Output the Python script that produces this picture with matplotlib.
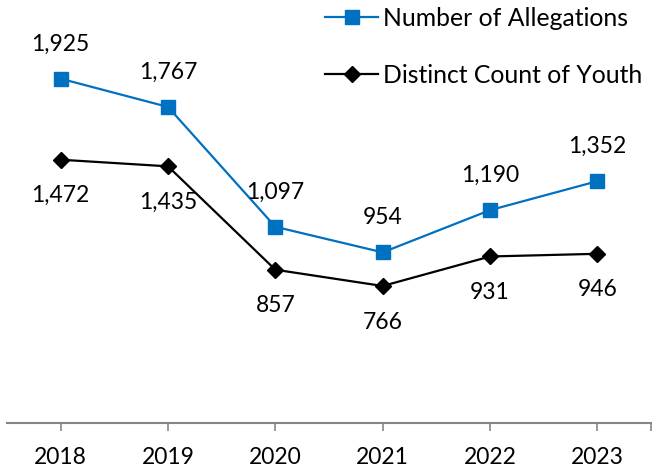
import matplotlib.pyplot as plt
import numpy as np

years = ['2018', '2019', '2020', '2021', '2022', '2023']
allegations = [1925, 1767, 1097, 954, 1190, 1352]
youth = [1472, 1435, 857, 766, 931, 946]

plt.rcParams['font.family'] = ['Lato', 'DejaVu Sans']

fig = plt.figure(figsize=(6.52, 4.74), dpi=100)
ax = fig.add_axes([7 / 652, 51 / 474, 644 / 652, 423 / 474])

x = np.arange(len(years))
ax.plot(x, allegations, color='#0070C0', lw=1.6, marker='s', ms=9.5,
        label='Number of Allegations')
ax.plot(x, youth, color='black', lw=1.6, marker='D', ms=8,
        label='Distinct Count of Youth')

for i in range(len(years)):
    ax.annotate(f'{allegations[i]:,}', (x[i], allegations[i]), xytext=(0, 25),
                textcoords='offset points', ha='center', va='center', fontsize=16.5)
    ax.annotate(f'{youth[i]:,}', (x[i], youth[i]), xytext=(0, -26),
                textcoords='offset points', ha='center', va='center', fontsize=16.5)

ax.set_xlim(-0.5, 5.5)
ax.set_ylim(0, 2365)
ax.set_xticks(x)
ax.set_xticklabels(years, fontsize=16.5)
ax.set_xticks([5.5], minor=True)
ax.tick_params(axis='x', which='both', length=6, width=1.2, color='#868686', pad=11)
ax.set_yticks([])
for s in ['top', 'right', 'left']:
    ax.spines[s].set_visible(False)
ax.spines['bottom'].set_color('#868686')
ax.spines['bottom'].set_linewidth(1.5)

ax.legend(loc='upper left', bbox_to_anchor=(325 / 652, 1 - 7 / 474),
          bbox_transform=fig.transFigure, frameon=False, fontsize=17.8,
          borderpad=0, borderaxespad=0, handlelength=2.15, handletextpad=0.2,
          labelspacing=1.38)

fig.savefig('out.png', dpi=100)
